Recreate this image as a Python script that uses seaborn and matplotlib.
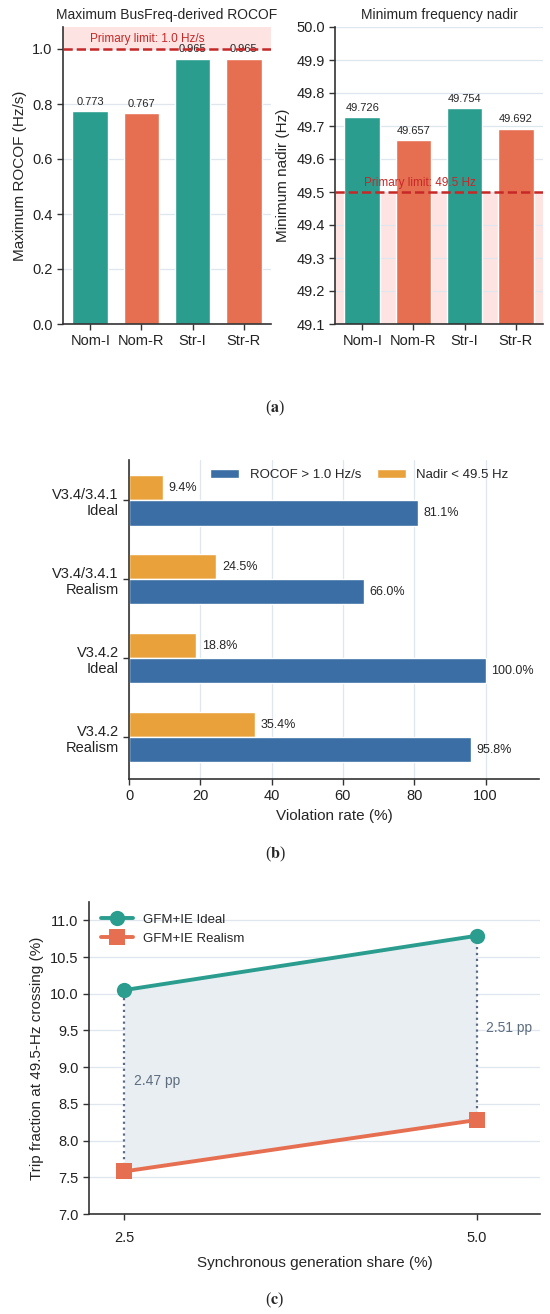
import numpy as np
import pandas as pd
import matplotlib
matplotlib.use("Agg")
import matplotlib.pyplot as plt
import seaborn as sns
from matplotlib.ticker import FormatStrFormatter

# ---------------- data ----------------
cases = ["Nom-I", "Nom-R", "Str-I", "Str-R"]
max_rocof = [0.773, 0.767, 0.965, 0.965]
min_nadir = [49.726, 49.657, 49.754, 49.692]
rocof_limit = 1.0
nadir_limit = 49.5

groups = ["V3.4/3.4.1\nIdeal", "V3.4/3.4.1\nRealism", "V3.4.2\nIdeal", "V3.4.2\nRealism"]
metrics = ["ROCOF > 1.0 Hz/s", "Nadir < 49.5 Hz"]
rocof_violation = [81.1, 66.0, 100.0, 95.8]
nadir_violation = [9.4, 24.5, 18.8, 35.4]

sync_share = [2.5, 5.0]
scenarios = ["GFM+IE Ideal", "GFM+IE Realism"]
trip_ideal = [10.05, 10.79]
trip_realism = [7.58, 8.28]

# ---------------- style ----------------
TEAL = "#2a9d8f"
CORAL = "#e76f51"
BLUE = "#3a6ea5"
AMBER = "#e9a23b"
LIMIT_RED = "#c62828"
SPAN_PINK = "#fde4e2"
GRID = "#dfe6ee"
SPINE = "#333333"

sns.set_theme(style="ticks")
plt.rcParams["font.family"] = ["Liberation Sans", "DejaVu Sans"]
plt.rcParams["mathtext.fontset"] = "stix"
plt.rcParams["axes.edgecolor"] = SPINE
plt.rcParams["axes.linewidth"] = 1.2
plt.rcParams["xtick.color"] = SPINE
plt.rcParams["ytick.color"] = SPINE
plt.rcParams["xtick.labelcolor"] = "#222222"
plt.rcParams["ytick.labelcolor"] = "#222222"

fig = plt.figure(figsize=(5.5, 13.14), dpi=100)
H = 1314.0
W = 550.0

def rect(l, t, r, b):
    return [l / W, 1 - b / H, (r - l) / W, (b - t) / H]

ax1 = fig.add_axes(rect(63, 27, 271, 324))
ax2 = fig.add_axes(rect(335, 27, 543, 324))
axb = fig.add_axes(rect(129, 460, 539, 779))
axc = fig.add_axes(rect(89, 902, 540, 1214))

def style_ax(ax, grid_axis):
    sns.despine(ax=ax)
    ax.grid(axis=grid_axis, color=GRID, lw=0.9)
    ax.set_axisbelow(True)
    ax.tick_params(length=4, width=1.0, labelsize=10.5)

case_palette = [TEAL, CORAL, TEAL, CORAL]

# ---------------- (a) left ----------------
dfa = pd.DataFrame({"case": cases, "rocof": max_rocof, "nadir": min_nadir})
sns.barplot(data=dfa, x="case", y="rocof", hue="case", palette=case_palette,
            legend=False, width=0.7, saturation=1, ax=ax1, zorder=2)
ax1.set_xlim(-0.535, 3.535)
ax1.set_ylim(0, 1.08)
ax1.set_yticks(np.arange(0, 1.01, 0.2))
ax1.yaxis.set_major_formatter(FormatStrFormatter("%.1f"))
ax1.axhspan(rocof_limit, 1.08, color=SPAN_PINK, zorder=0, lw=0)
ax1.axhline(rocof_limit, color=LIMIT_RED, ls="--", lw=1.8, zorder=4)
ax1.annotate("Primary limit: 1.0 Hz/s", xy=(0.13, rocof_limit), xycoords=ax1.get_yaxis_transform(),
             xytext=(0, 3), textcoords="offset points",
             ha="left", va="bottom", color=LIMIT_RED, fontsize=8.5)
for c in ax1.containers:
    ax1.bar_label(c, fmt="%.3f", padding=3, fontsize=8)
ax1.set_title("Maximum BusFreq-derived ROCOF", fontsize=10, pad=6)
ax1.set_xlabel("")
ax1.set_ylabel("Maximum ROCOF (Hz/s)", fontsize=11)
style_ax(ax1, "y")

# ---------------- (a) right ----------------
sns.barplot(data=dfa, x="case", y="nadir", hue="case", palette=case_palette,
            legend=False, width=0.7, saturation=1, ax=ax2, zorder=2)
ax2.set_xlim(-0.535, 3.535)
ax2.set_ylim(49.1, 50.0)
ax2.set_yticks(np.arange(49.1, 50.001, 0.1))
ax2.yaxis.set_major_formatter(FormatStrFormatter("%.1f"))
ax2.axhspan(49.1, nadir_limit, color=SPAN_PINK, zorder=0, lw=0)
ax2.axhline(nadir_limit, color=LIMIT_RED, ls="--", lw=1.8, zorder=4)
ax2.annotate("Primary limit: 49.5 Hz", xy=(0.14, nadir_limit), xycoords=ax2.get_yaxis_transform(),
             xytext=(0, 2), textcoords="offset points",
             ha="left", va="bottom", color=LIMIT_RED, fontsize=8.5)
for c in ax2.containers:
    ax2.bar_label(c, fmt="%.3f", padding=3, fontsize=8)
ax2.set_title("Minimum frequency nadir", fontsize=10, pad=6)
ax2.set_xlabel("")
ax2.set_ylabel("Minimum nadir (Hz)", fontsize=11)
style_ax(ax2, "y")

# ---------------- (b) ----------------
dfb = pd.DataFrame({
    "group": groups * 2,
    "metric": [metrics[0]] * len(groups) + [metrics[1]] * len(groups),
    "rate": rocof_violation + nadir_violation,
})
sns.barplot(data=dfb, y="group", x="rate", hue="metric",
            hue_order=[metrics[1], metrics[0]], palette=[AMBER, BLUE],
            width=0.64, saturation=1, orient="h", ax=axb, zorder=2)
for c in axb.containers:
    axb.bar_label(c, fmt="%.1f%%", padding=4, fontsize=9)
axb.set_xlim(0, 115)
axb.set_ylim(3.53, -0.51)
axb.set_xticks([0, 20, 40, 60, 80, 100])
axb.set_xlabel("Violation rate (%)", fontsize=11)
axb.set_ylabel("")
style_ax(axb, "x")
h, l = axb.get_legend_handles_labels()
order = [l.index(m) for m in metrics]
axb.legend([h[i] for i in order], [l[i] for i in order], ncol=2, frameon=False,
           loc="upper right", bbox_to_anchor=(0.955, 1.01), fontsize=9.5,
           handlelength=2.2, columnspacing=1.2)

# ---------------- (c) ----------------
dfc = pd.DataFrame({
    "share": sync_share * 2,
    "trip": trip_ideal + trip_realism,
    "scenario": [scenarios[0]] * 2 + [scenarios[1]] * 2,
})
axc.fill_between(sync_share, trip_realism, trip_ideal, color="#e9eef2", lw=0, zorder=1)
axc.vlines(sync_share, trip_realism, trip_ideal, colors="#5b6b86", linestyles=":", lw=1.6, zorder=2)
sns.lineplot(data=dfc, x="share", y="trip", hue="scenario", style="scenario",
             markers=["o", "s"], dashes=False, palette=[TEAL, CORAL],
             lw=2.8, markersize=11, markeredgewidth=0, ax=axc, zorder=3)
for x, lo, hi in zip(sync_share, trip_realism, trip_ideal):
    axc.annotate(f"{hi - lo:.2f} pp", xy=(x, (lo + hi) / 2), xytext=(7, 0),
                 textcoords="offset points", ha="left", va="center",
                 color="#5d6d7e", fontsize=10)
axc.set_xlim(2.25, 5.45)
axc.set_ylim(7.0, 11.25)
axc.set_xticks(sync_share)
axc.set_xticklabels([f"{v:.1f}" for v in sync_share])
axc.set_yticks(np.arange(7.0, 11.01, 0.5))
axc.yaxis.set_major_formatter(FormatStrFormatter("%.1f"))
axc.set_xlabel("Synchronous generation share (%)", fontsize=11, labelpad=8)
axc.set_ylabel("Trip fraction at 49.5-Hz crossing (%)", fontsize=11)
style_ax(axc, "y")
axc.tick_params(axis="x", pad=8)
hc, lc = axc.get_legend_handles_labels()
axc.legend(hc, lc, loc="upper left", frameon=False, fontsize=9.5,
           handlelength=2.4, bbox_to_anchor=(0.0, 1.0))

# ---------------- captions ----------------
for lab, ypix in [("a", 408), ("b", 854), ("c", 1300)]:
    fig.text(0.5, 1 - ypix / H, "(" + r"$\mathbf{" + lab + "}$" + ")",
             ha="center", va="center", fontsize=11.5, family="Liberation Serif")

fig.savefig("out.png", dpi=100)
